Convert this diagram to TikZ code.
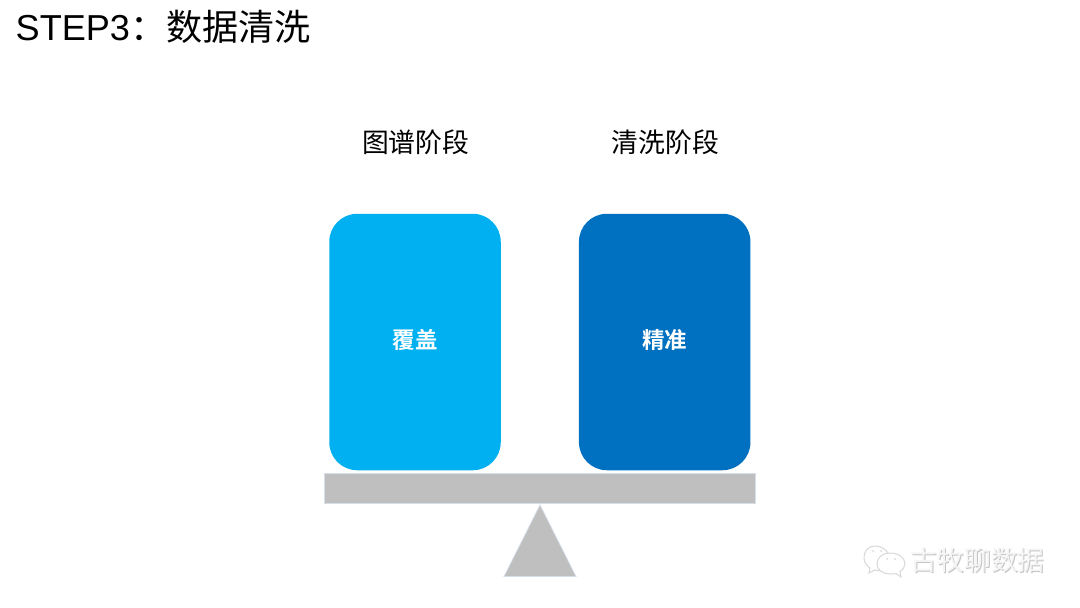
\documentclass[tikz,border=0pt]{standalone}
\usepackage{fontspec}
\setmainfont{Liberation Sans}
\newfontfamily\cjk{Noto Sans CJK SC}
\newfontfamily\cjkb{Noto Sans CJK SC Bold}
\definecolor{cyanbox}{HTML}{00B0F0}
\definecolor{bluebox}{HTML}{0070C0}
\definecolor{beamgray}{HTML}{BFBFBF}
\definecolor{beamedge}{HTML}{D6DEEA}
\definecolor{wmgray}{HTML}{D8D8D8}
\definecolor{wmshade}{HTML}{C4C4C4}
\tikzset{
  weight/.style={rounded corners=28pt,minimum width=171.5pt,minimum height=256.5pt,inner sep=0pt,text=white,text height=19pt,text depth=7pt,font=\cjkb\fontsize{22.5}{26}\selectfont},
  stage/.style={inner sep=0pt,text=black,font=\cjk\fontsize{26.8}{30}\selectfont},
  scalepart/.style={fill=beamgray,draw=beamedge,line width=0.7pt},
  bubble/.style={draw=wmgray,line width=1pt,fill=white},
  wmark/.style={inner sep=0pt,anchor=west,font=\cjk\fontsize{26.8}{30}\selectfont}
}
\begin{document}
\begin{tikzpicture}[x=1pt,y=-1pt]
\useasboundingbox (0,0) rectangle (1080,608);
\fill[white] (0,0) rectangle (1080,608);
\node[inner sep=0pt,anchor=base west,font=\fontsize{36.1}{40}\selectfont] (title) at (15.5,40) {STEP3{\cjk：数据清洗}};
\node[stage] (s1) at (415.7,142.5) {图谱阶段};
\node[stage] (s2) at (665.3,142.5) {清洗阶段};
\node[weight,fill=cyanbox] (w1) at (415,342) {覆盖};
\node[weight,fill=bluebox] (w2) at (664.7,342) {精准};
\node[scalepart,minimum width=431.5pt,minimum height=29.5pt,inner sep=0pt] (beam) at (539.9,488.5) {};
\path[scalepart] (540,505) -- (576,576.5) -- (504,576.5) -- cycle;
% watermark
\draw[bubble] (876,546) .. controls (866,546) and (864,553) .. (864,558) .. controls (864,563) and (867,566) .. (870,568) -- (869,573) -- (875,570) .. controls (880,571) and (884,571) .. (887,570) .. controls (892,566) and (893,548) .. (876,546) -- cycle;
\draw[bubble] (890,553) .. controls (881,553) and (877,559) .. (877,564) .. controls (877,570) and (883,574) .. (890,574) .. controls (892,574) and (894,574) .. (896,573.5) -- (901,577) -- (900,571.5) .. controls (903,569) and (905,567) .. (905,564) .. controls (905,558) and (899,553) .. (890,553) -- cycle;
\fill[wmgray] (873,551) circle (1pt) (881,551) circle (1pt) (887,559) circle (1pt) (895,559) circle (1pt);
\node[wmark,text=wmshade] (wmb) at (911.5,561.5) {古牧聊数据};
\node[wmark,text=white!96!black] (wm) at (910.5,560.5) {古牧聊数据};
\end{tikzpicture}
\end{document}
